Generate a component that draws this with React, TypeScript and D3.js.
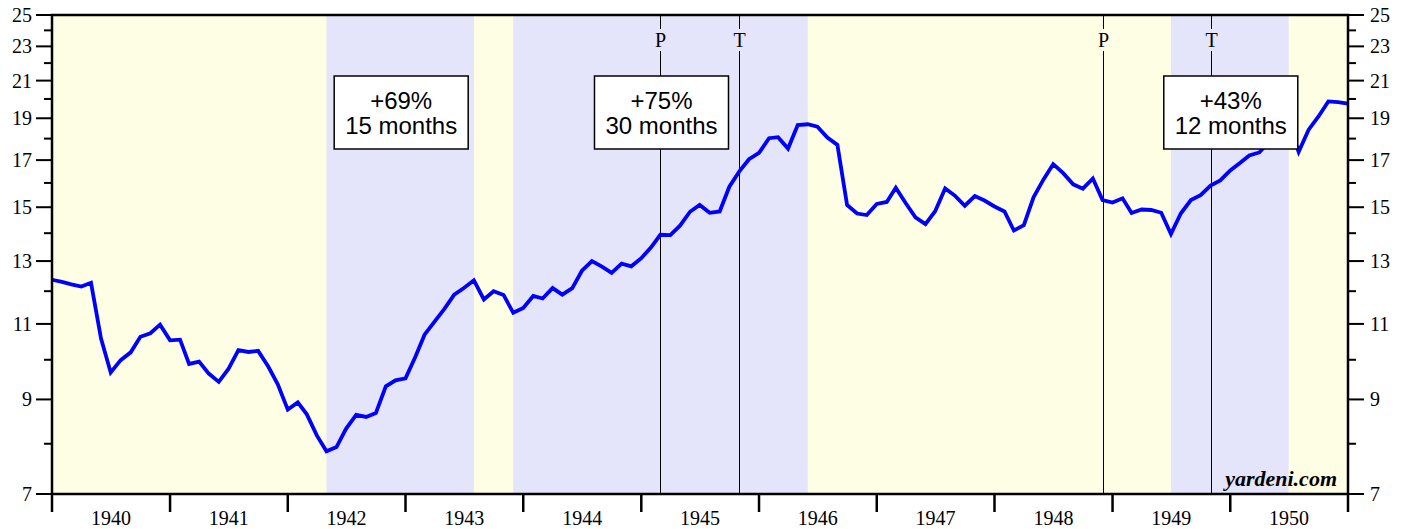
import React from "react";
import * as d3 from "d3";

// monthly average prices, first value = Dec 1939, then Jan 1940 .. Dec 1950
const prices = [
  12.37,
  12.30, 12.22, 12.15, 12.27, 10.58, 9.67, 9.99, 10.20, 10.63, 10.73, 10.98, 10.53,
  10.55, 9.89, 9.95, 9.64, 9.43, 9.76, 10.26, 10.21, 10.24, 9.83, 9.37, 8.76,
  8.93, 8.65, 8.18, 7.84, 7.93, 8.33, 8.64, 8.59, 8.68, 9.32, 9.47, 9.52,
  10.09, 10.69, 11.07, 11.44, 11.89, 12.10, 12.35, 11.74, 12.00, 11.88, 11.33, 11.48,
  11.85, 11.77, 12.10, 11.89, 12.10, 12.67, 13.00, 12.81, 12.60, 12.91, 12.82, 13.10,
  13.49, 13.94, 13.93, 14.28, 14.82, 15.09, 14.78, 14.83, 15.84, 16.50, 17.04, 17.33,
  18.02, 18.07, 17.53, 18.66, 18.70, 18.58, 18.05, 17.70, 15.09, 14.75, 14.69, 15.13,
  15.21, 15.80, 15.16, 14.60, 14.34, 14.84, 15.77, 15.46, 15.06, 15.45, 15.27, 15.03,
  14.83, 14.10, 14.30, 15.40, 16.15, 16.82, 16.42, 15.94, 15.76, 16.19, 15.29, 15.19,
  15.36, 14.77, 14.91, 14.89, 14.78, 13.97, 14.76, 15.29, 15.49, 15.89, 16.11, 16.54,
  16.88, 17.21, 17.35, 17.84, 18.44, 18.74, 17.38, 18.43, 19.08, 19.87, 19.83, 19.75,
];

const years = [1940, 1941, 1942, 1943, 1944, 1945, 1946, 1947, 1948, 1949, 1950];
const majorTicks = [7, 9, 11, 13, 15, 17, 19, 21, 23, 25];
const minorTicks = [8, 10, 12, 14, 16, 18, 20, 22, 24];

const rallyStart = ["1942-05-01", "1943-12-01", "1949-07-01"];
const rallyEnd = ["1943-08-01", "1946-06-01", "1950-07-01"];
const rallyGain = ["+69%", "+75%", "+43%"];
const rallyLength = ["15 months", "30 months", "12 months"];

const markerDates = ["1945-03-01", "1945-11-01", "1948-12-01", "1949-11-01"];
const markerLabels = ["P", "T", "P", "T"];

const W = 1407, H = 529;
const m = { left: 52, right: 59, top: 15, bottom: 35 };
const serif = "'Liberation Serif', 'Times New Roman', serif";
const sans = "'Liberation Sans', Arial, sans-serif";

const parse = (s: string) => new Date(s + "T00:00:00");

export default function App() {
  const x = d3.scaleTime()
    .domain([new Date(1940, 0, 1), new Date(1951, 0, 1)])
    .range([m.left, W - m.right]);
  const y = d3.scaleLog().domain([7, 25]).range([H - m.bottom, m.top]);

  const pts = prices.map((v, i) => ({ date: d3.timeMonth.offset(new Date(1940, 0, 1), i), v }));
  const line = d3.line<{ date: Date; v: number }>().x(d => x(d.date)).y(d => y(d.v));

  const x0 = m.left, x1 = W - m.right, y0 = m.top, y1 = H - m.bottom;
  const boxW = 134, boxH = 73, boxTop = 76;

  return (
    <svg width={W} height={H} style={{ position: "absolute", left: 0, top: 0 }}>
      <rect x={x0} y={y0} width={x1 - x0} height={y1 - y0} fill="#fefee4" />
      {rallyStart.map((s, i) => (
        <rect key={s} x={x(parse(s))} y={y0} width={x(parse(rallyEnd[i])) - x(parse(s))}
          height={y1 - y0} fill="#e4e4fb" />
      ))}

      {markerDates.map((d, i) => {
        const mx = Math.round(x(parse(d))) + 0.5;
        return (
          <g key={d}>
            <line x1={mx} x2={mx} y1={y0} y2={29} stroke="#000" strokeWidth={1} />
            <line x1={mx} x2={mx} y1={51} y2={y1} stroke="#000" strokeWidth={1} />
            <text x={mx} y={47} textAnchor="middle" fontFamily={serif} fontSize={20}>{markerLabels[i]}</text>
          </g>
        );
      })}

      <path d={line(pts) || ""} fill="none" stroke="#0000ff" strokeWidth={3.8} strokeLinejoin="miter" />

      {rallyStart.map((s, i) => {
        const cx = (x(parse(s)) + x(parse(rallyEnd[i]))) / 2;
        return (
          <g key={"b" + s}>
            <rect x={cx - boxW / 2 + 1} y={boxTop} width={boxW} height={boxH} fill="#fff" stroke="#000" strokeWidth={1.5} />
            <text x={cx + 1} y={109} textAnchor="middle" fontFamily={sans} fontSize={24}>{rallyGain[i]}</text>
            <text x={cx + 1} y={134} textAnchor="middle" fontFamily={sans} fontSize={24}>{rallyLength[i]}</text>
          </g>
        );
      })}

      <text x={x1 - 11} y={486} textAnchor="end" fontFamily={serif} fontSize={22}
        fontWeight="bold" fontStyle="italic">yardeni.com</text>

      {/* y ticks both sides */}
      {majorTicks.map(t => (
        <g key={"M" + t}>
          <line x1={x0 - 16} x2={x0} y1={y(t)} y2={y(t)} stroke="#000" strokeWidth={2} />
          <line x1={x1} x2={x1 + 16} y1={y(t)} y2={y(t)} stroke="#000" strokeWidth={2} />
          <text x={x0 - 20} y={y(t) + 7} textAnchor="end" fontFamily={serif} fontSize={20}>{t}</text>
          <text x={x1 + 22} y={y(t) + 7} textAnchor="start" fontFamily={serif} fontSize={20}>{t}</text>
        </g>
      ))}
      {minorTicks.map(t => (
        <g key={"m" + t}>
          <line x1={x0 - 8} x2={x0} y1={y(t)} y2={y(t)} stroke="#000" strokeWidth={2} />
          <line x1={x1} x2={x1 + 8} y1={y(t)} y2={y(t)} stroke="#000" strokeWidth={2} />
        </g>
      ))}

      {/* x ticks at year boundaries, labels mid-year */}
      {[...years, 1951].map(yr => {
        const tx = x(new Date(yr, 0, 1));
        return <line key={"t" + yr} x1={tx} x2={tx} y1={y1} y2={y1 + 18} stroke="#000" strokeWidth={2.5} />;
      })}
      {years.map(yr => (
        <text key={"l" + yr} x={x(new Date(yr, 6, 2))} y={525} textAnchor="middle" fontFamily={serif} fontSize={20}>{yr}</text>
      ))}

      <rect x={x0} y={y0} width={x1 - x0} height={y1 - y0} fill="none" stroke="#000" strokeWidth={2.5} />
    </svg>
  );
}
